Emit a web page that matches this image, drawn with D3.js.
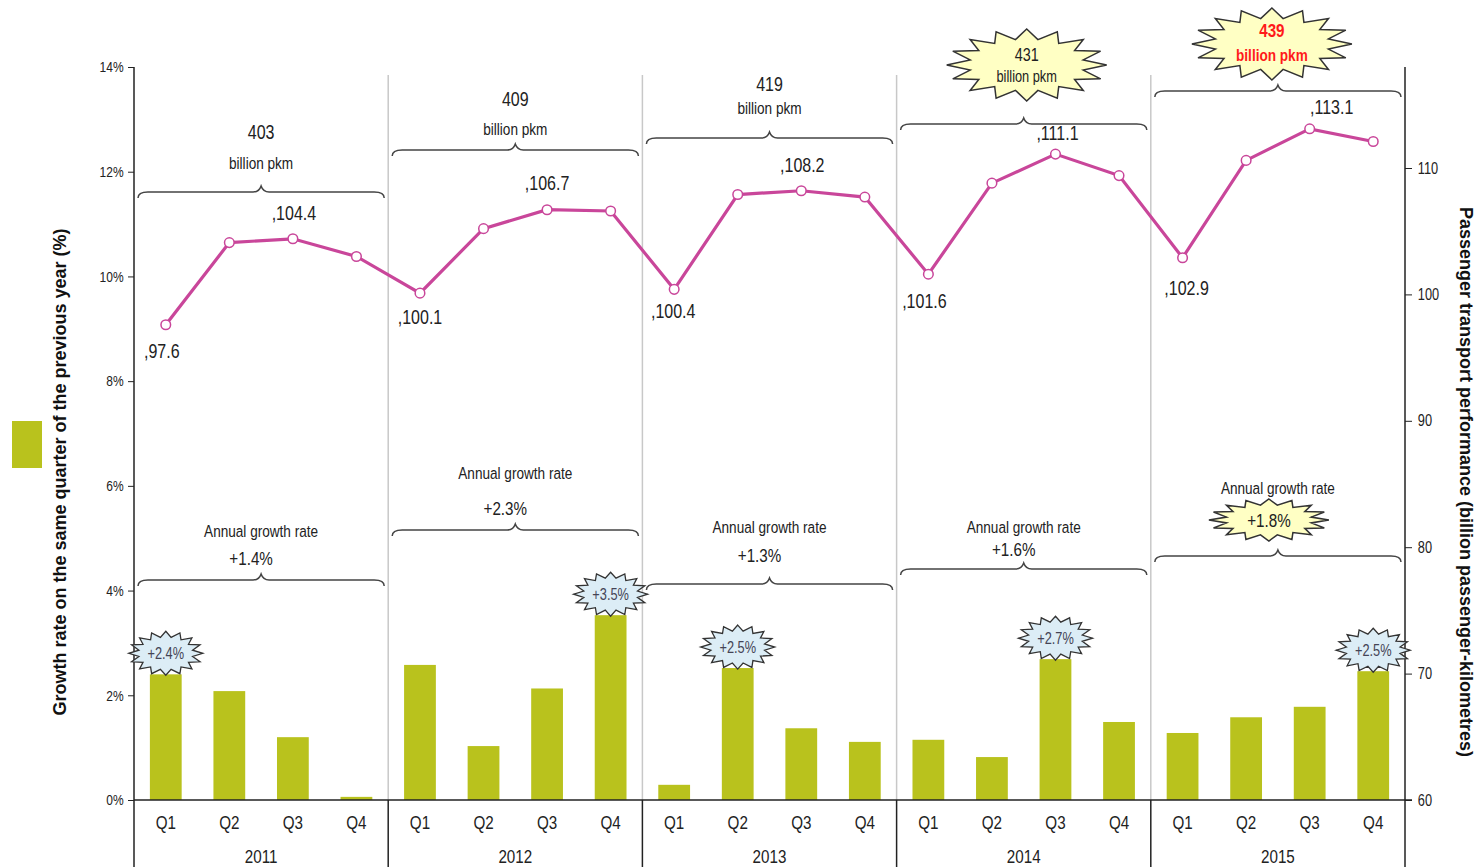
<!DOCTYPE html>
<html>
<head>
<meta charset="utf-8">
<script src="https://cdn.jsdelivr.net/npm/d3@7/dist/d3.min.js"></script>
<style>
  html, body { margin: 0; padding: 0; background: #fff; }
  svg { display: block; }
  text { font-family: "Liberation Sans Narrow", "Arial Narrow", "Liberation Sans", Arial, sans-serif; fill: #222; }
  .bold { font-family: "Liberation Sans", Arial, sans-serif; font-weight: bold; }
</style>
</head>
<body>
<svg id="chart" width="1480" height="867"></svg>
<script>
// ---------- DATA ----------
const years = ["2011", "2012", "2013", "2014", "2015"];
const quarters = ["Q1", "Q2", "Q3", "Q4"];
// growth rate on same quarter of previous year (%)
const growthRate = [
  2.40, 2.08, 1.20, 0.06,
  2.58, 1.03, 2.13, 3.53,
  0.29, 2.52, 1.37, 1.11,
  1.15, 0.82, 2.69, 1.49,
  1.28, 1.58, 1.78, 2.46
];
// passenger transport performance (billion pkm)
const performance = [
  97.6, 104.1, 104.4, 103.0,
  100.1, 105.2, 106.7, 106.6,
  100.4, 107.9, 108.2, 107.7,
  101.6, 108.8, 111.1, 109.4,
  102.9, 110.6, 113.1, 112.1
];
const labelledPoints = [0, 2, 4, 6, 8, 10, 12, 14, 16, 18];
const annualTotal = ["403", "409", "419", "431", "439"];
const annualGrowth = ["+1.4%", "+2.3%", "+1.3%", "+1.6%", "+1.8%"];
const highlightBars = [0, 7, 9, 14, 19];
const highlightLabels = ["+2.4%", "+3.5%", "+2.5%", "+2.7%", "+2.5%"];
const leftTicks = [0, 2, 4, 6, 8, 10, 12, 14];
const rightTicks = [60, 70, 80, 90, 100, 110];

// ---------- LAYOUT ----------
const L = 134, R = 1405, T = 67, B = 800, BOTTOM = 867;
const barColor = "#b9c21d", lineColor = "#c9469a";
const NARROW = 0.8;
const labelDx = [-4, 1, 0, 0, -1, 1, -4, 2, 4, 22];
const labelDy = [33, -19, 31, -20, 29, -19, 34, -14, 37, -15];
const topBraceY = [192, 150, 138, 124, 91];
const topText1Y = [132, 99, 84, 55, 31];
const topText2Y = [163, 129, 108, 76, 55];
const botBraceY = [580, 530, 584, 569, 556];
const botText1Y = [531, 473, 527, 527, 488];
const botText2Y = [558, 508, 555, 549, 520];

const svg = d3.select("#chart");
const keys = [];
years.forEach(y => quarters.forEach(q => keys.push(y + "-" + q)));

const x = d3.scaleBand().domain(keys).range([L, R]).paddingInner(0.5).paddingOuter(0.25);
const xYear = d3.scaleBand().domain(years).range([L, R]).padding(0);
const yL = d3.scaleLinear().domain([0, 14]).range([B, T]);
const yR = d3.scaleLinear().domain([60, 60 + (B - T) / 12.64]).range([B, T]);
const cx = i => x(keys[i]) + x.bandwidth() / 2;

// narrow text helper
function txt(parent, px, py, s, size, opts = {}) {
  const t = parent.append("text")
    .attr("transform", `translate(${px},${py}) scale(${NARROW},1)`)
    .attr("text-anchor", opts.anchor || "middle")
    .style("font-size", size + "px")
    .text(s);
  if (opts.fill) t.style("fill", opts.fill);
  if (opts.bold) t.style("font-weight", "bold");
  return t;
}

// year separators (light grey)
svg.append("g").selectAll("line").data(years.slice(1)).join("line")
  .attr("x1", d => xYear(d)).attr("x2", d => xYear(d))
  .attr("y1", T + 8).attr("y2", B)
  .attr("stroke", "#c8c8c8").attr("stroke-width", 1.5);

// bars
svg.append("g").selectAll("rect").data(growthRate).join("rect")
  .attr("x", (d, i) => x(keys[i]))
  .attr("width", x.bandwidth())
  .attr("y", d => yL(d))
  .attr("height", d => B - yL(d))
  .attr("fill", barColor);

// left axis
const gL = svg.append("g").attr("transform", `translate(${L},0)`)
  .call(d3.axisLeft(yL).tickValues(leftTicks).tickFormat(d => d + "%").tickSize(6).tickSizeOuter(0));
gL.select(".domain").remove();
gL.selectAll("line").attr("stroke", "#222");
gL.selectAll("text").attr("fill", "#555").style("font-size", "15px")
  .attr("x", -13).attr("transform", `scale(${NARROW},1)`);
svg.append("line").attr("x1", L).attr("x2", L).attr("y1", T).attr("y2", BOTTOM).attr("stroke", "#222").attr("stroke-width", 1.5);

// right axis
const gR = svg.append("g").attr("transform", `translate(${R},0)`)
  .call(d3.axisRight(yR).tickValues(rightTicks).tickSize(7).tickSizeOuter(0));
gR.select(".domain").remove();
gR.selectAll("line").attr("stroke", "#222");
gR.selectAll("text").attr("fill", "#555").style("font-size", "16px")
  .attr("x", 16).attr("transform", `scale(${NARROW},1)`);
svg.append("line").attr("x1", R).attr("x2", R).attr("y1", T).attr("y2", BOTTOM).attr("stroke", "#222").attr("stroke-width", 1.5);

// bottom axis
svg.append("line").attr("x1", L).attr("x2", R + 7).attr("y1", B).attr("y2", B).attr("stroke", "#222").attr("stroke-width", 1.5);
svg.append("g").selectAll("line").data(years.slice(1)).join("line")
  .attr("x1", d => xYear(d)).attr("x2", d => xYear(d))
  .attr("y1", B).attr("y2", BOTTOM).attr("stroke", "#222").attr("stroke-width", 1.5);
const gQ = svg.append("g");
keys.forEach((k, i) => txt(gQ, cx(i), 829, k.split("-")[1], 19));
const gY = svg.append("g");
years.forEach(yr => txt(gY, xYear(yr) + xYear.bandwidth() / 2, 863, yr, 19));

// line
const line = d3.line().x((d, i) => cx(i)).y(d => yR(d));
svg.append("path").datum(performance).attr("d", line)
  .attr("fill", "none").attr("stroke", lineColor).attr("stroke-width", 3.2);
svg.append("g").selectAll("circle").data(performance).join("circle")
  .attr("cx", (d, i) => cx(i)).attr("cy", d => yR(d)).attr("r", 4.8)
  .attr("fill", "#fff").attr("stroke", lineColor).attr("stroke-width", 1.5);
const gV = svg.append("g");
labelledPoints.forEach((i, k) => {
  txt(gV, cx(i) + labelDx[k], yR(performance[i]) + labelDy[k], "," + performance[i].toFixed(1), 20);
});

// brace helper
function brace(x1, x2, y) {
  const xm = (x1 + x2) / 2, h = 6;
  return `M${x1},${y + h} Q${x1},${y} ${x1 + 10},${y} L${xm - 8},${y} Q${xm - 2},${y} ${xm},${y - h} Q${xm + 2},${y} ${xm + 8},${y} L${x2 - 10},${y} Q${x2},${y} ${x2},${y + h}`;
}
// starburst helper
function burst(cxp, cyp, rx, ry, n, inner) {
  const pts = [];
  for (let k = 0; k < n * 2; k++) {
    const a = Math.PI * k / n - Math.PI / 2;
    const f = k % 2 === 0 ? 1 : inner;
    pts.push([cxp + Math.cos(a) * rx * f, cyp + Math.sin(a) * ry * f]);
  }
  return "M" + pts.map(p => p[0].toFixed(1) + "," + p[1].toFixed(1)).join("L") + "Z";
}

// top annotations
const gTop = svg.append("g");
years.forEach((yr, j) => {
  const x0 = xYear(yr), x1 = x0 + xYear.bandwidth(), xm = (x0 + x1) / 2;
  gTop.append("path").attr("d", brace(x0 + 4, x1 - 4, topBraceY[j]))
    .attr("fill", "none").attr("stroke", "#444").attr("stroke-width", 1.5);
  if (j < 3) {
    txt(gTop, xm, topText1Y[j] + 7, annualTotal[j], 20);
    txt(gTop, xm, topText2Y[j] + 6, "billion  pkm", 17);
  } else {
    const isLast = j === 4;
    const bcx = isLast ? xm - 6 : xm + 3;
    const bcy = isLast ? 44 : 65;
    gTop.append("path").attr("d", burst(bcx, bcy, 80, 36, 16, 0.72))
      .attr("fill", "#ffffc4").attr("stroke", "#333").attr("stroke-width", 1.5);
    const col = isLast ? "#ff1a1a" : "#222";
    txt(gTop, bcx, topText1Y[j] + 6, annualTotal[j], isLast ? 19 : 18, { fill: col, bold: isLast });
    txt(gTop, bcx, topText2Y[j] + 6, "billion  pkm", isLast ? 17 : 16, { fill: col, bold: isLast });
  }
});

// bottom annotations
const gBot = svg.append("g");
years.forEach((yr, j) => {
  const x0 = xYear(yr), x1 = x0 + xYear.bandwidth(), xm = (x0 + x1) / 2;
  gBot.append("path").attr("d", brace(x0 + 4, x1 - 4, botBraceY[j]))
    .attr("fill", "none").attr("stroke", "#444").attr("stroke-width", 1.5);
  txt(gBot, xm, botText1Y[j] + 6, "Annual growth  rate", 17);
  if (j === 4) {
    gBot.append("path").attr("d", burst(xm - 9, botText2Y[j], 60, 21, 16, 0.72))
      .attr("fill", "#ffffc4").attr("stroke", "#333").attr("stroke-width", 1.5);
    txt(gBot, xm - 9, botText2Y[j] + 7, annualGrowth[j], 19);
  } else {
    txt(gBot, xm - 10, botText2Y[j] + 7, annualGrowth[j], 19);
  }
});

// quarter highlights
const gH = svg.append("g");
highlightBars.forEach((i, k) => {
  const by = yL(growthRate[i]) - 21;
  gH.append("path").attr("d", burst(cx(i), by, 37, 22, 16, 0.74))
    .attr("fill", "#dcedf6").attr("stroke", "#333").attr("stroke-width", 1.3);
  txt(gH, cx(i), by + 6, highlightLabels[k], 16, { fill: "#445" });
});

// legend square
svg.append("rect").attr("x", 12).attr("y", 421).attr("width", 30).attr("height", 47).attr("fill", barColor);

// axis titles
svg.append("text").attr("class", "bold").attr("transform", "translate(66,472) rotate(-90)")
  .attr("text-anchor", "middle").style("font-size", "18px").style("fill", "#111")
  .text("Growth rate on the same quarter of the previous year (%)");
svg.append("text").attr("class", "bold").attr("transform", "translate(1460,482) rotate(90)")
  .attr("text-anchor", "middle").style("font-size", "18px").style("fill", "#111")
  .text("Passenger transport performance (billion  passenger-kilometres)");
</script>
</body>
</html>
